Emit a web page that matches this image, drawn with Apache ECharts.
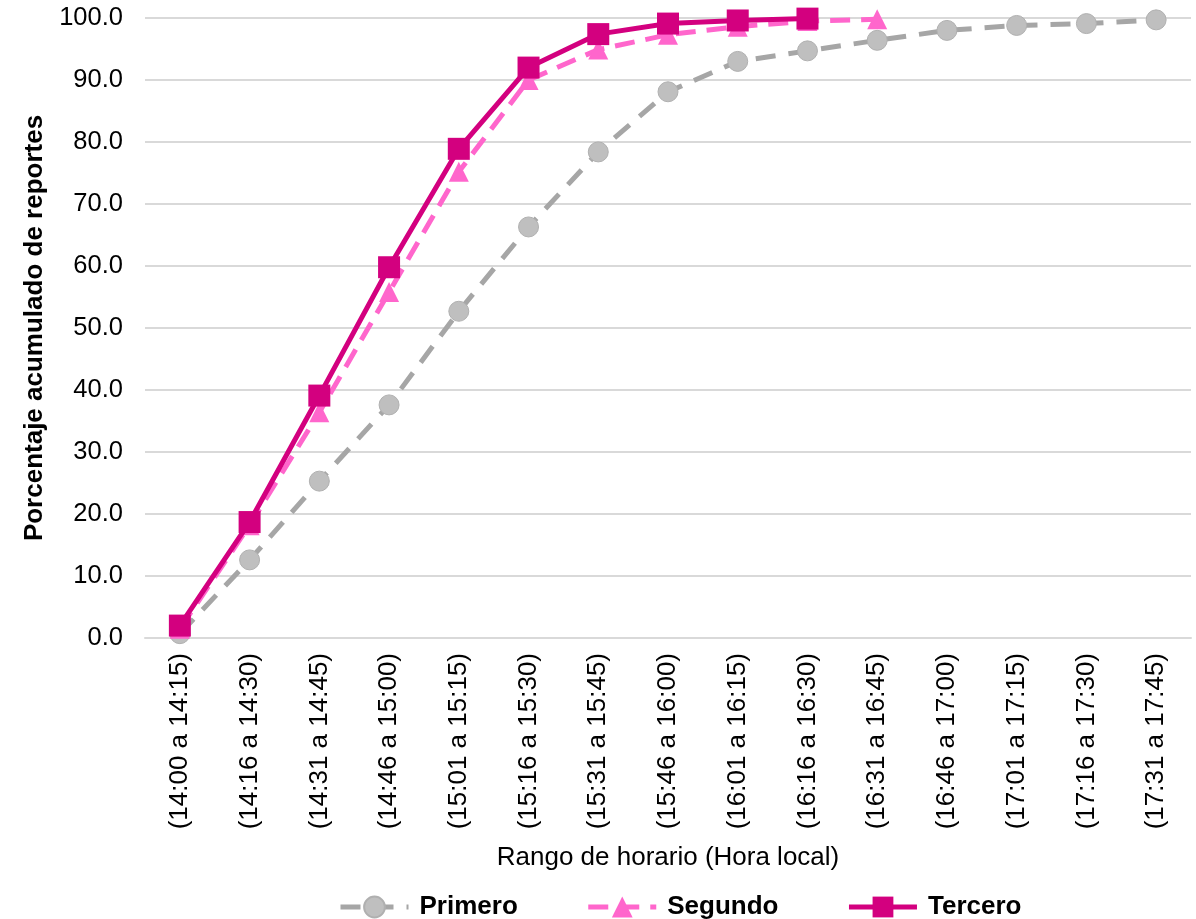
<!DOCTYPE html>
<html><head><meta charset="utf-8">
<script src="https://cdn.jsdelivr.net/npm/echarts@6/dist/echarts.min.js"></script>
<style>html,body{margin:0;padding:0;background:#fff}#c{width:1196px;height:919px}</style>
</head><body><div id="c"></div>
<script>
const categories = ["(14:00 a 14:15)","(14:16 a 14:30)","(14:31 a 14:45)","(14:46 a 15:00)","(15:01 a 15:15)","(15:16 a 15:30)","(15:31 a 15:45)","(15:46 a 16:00)","(16:01 a 16:15)","(16:16 a 16:30)","(16:31 a 16:45)","(16:46 a 17:00)","(17:01 a 17:15)","(17:16 a 17:30)","(17:31 a 17:45)"];
const primero = [0.7, 12.6, 25.3, 37.6, 52.7, 66.3, 78.4, 88.1, 93.0, 94.7, 96.4, 98.0, 98.8, 99.1, 99.7];
const segundo = [1.5, 18.2, 36.4, 55.8, 75.2, 90.0, 94.9, 97.3, 98.6, 99.5, 99.8];
const tercero = [2.0, 18.7, 39.1, 59.8, 78.9, 92.0, 97.4, 99.1, 99.6, 99.9];
const yTicks = {min: 0, max: 100, interval: 10};

const font = 'Liberation Sans, Arial, sans-serif';
const chart = echarts.init(document.getElementById('c'));
chart.setOption({
  animation: false,
  grid: {left: 145, right: 5, top: 18, bottom: 281},
  legend: {
    top: 889, left: 333, itemWidth: 68, itemHeight: 26, itemGap: 68,
    textStyle: {fontFamily: font, fontSize: 26, fontWeight: 'bold', color: '#000', padding: [0, 0, 0, 6]},
    lineStyle: {width: 5},
    data: ['Primero', 'Segundo', 'Tercero']
  },
  xAxis: {
    type: 'category', data: categories, boundaryGap: true,
    name: 'Rango de horario (Hora local)', nameLocation: 'middle', nameGap: 207,
    nameTextStyle: {fontFamily: font, fontSize: 26, color: '#000'},
    axisLine: {lineStyle: {color: '#d9d9d9', width: 2}},
    axisTick: {show: false},
    axisLabel: {rotate: 90, interval: 0, fontFamily: font, fontSize: 26, color: '#000', margin: 15}
  },
  yAxis: {
    type: 'value', min: yTicks.min, max: yTicks.max, interval: yTicks.interval,
    name: 'Porcentaje acumulado de reportes', nameLocation: 'middle', nameGap: 97,
    nameTextStyle: {fontFamily: font, fontSize: 26, fontWeight: 'bold', color: '#000'},
    axisLine: {show: false}, axisTick: {show: false},
    axisLabel: {fontFamily: font, fontSize: 25.5, color: '#000', margin: 22, formatter: v => v.toFixed(1)},
    splitLine: {lineStyle: {color: '#d9d9d9', width: 2}}
  },
  series: [
    {name: 'Primero', type: 'line', data: primero, symbol: 'circle', symbolSize: 20,
     lineStyle: {color: '#a6a6a6', width: 5, type: [20, 13]},
     itemStyle: {color: '#bfbfbf', borderColor: '#b0b0b0', borderWidth: 1}, z: 1},
    {name: 'Segundo', type: 'line', data: segundo, symbol: 'triangle', symbolSize: 20,
     lineStyle: {color: '#ff66cc', width: 5, type: [20, 11]},
     itemStyle: {color: '#ff66cc'}, z: 2},
    {name: 'Tercero', type: 'line', data: tercero, symbol: 'rect', symbolSize: 22,
     lineStyle: {color: '#d3007f', width: 5},
     itemStyle: {color: '#d3007f'}, z: 3}
  ]
});
</script></body></html>
